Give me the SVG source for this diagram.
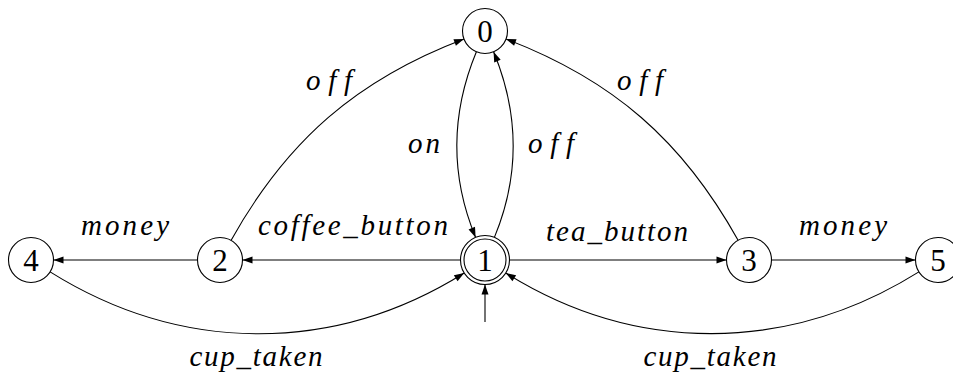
<svg xmlns="http://www.w3.org/2000/svg" width="953" height="374" viewBox="0 0 953 374" font-family="Liberation Serif, Times New Roman, serif">
<style>
.st{fill:#fff;stroke:#000;stroke-width:1.1}
.num{font-size:31px;text-anchor:middle;fill:#000}
.lbl{font-style:italic;font-size:29px;text-anchor:middle;fill:#000}
.e{fill:none;stroke:#000;stroke-width:1.1;marker-end:url(#ah)}
</style>
<defs>
<marker id="ah" markerUnits="userSpaceOnUse" markerWidth="11" markerHeight="8" refX="10" refY="3.5" orient="auto" overflow="visible">
<path d="M0,0 L10,3.5 L0,7 Z" fill="#000"/>
</marker>
</defs>
<rect width="953" height="374" fill="#fff"/>
<g id="connectors">
<path class="e" d="M460.5,260 L242.5,260"/>
<path class="e" d="M197.5,260 L53.5,260"/>
<path class="e" d="M509.5,260 L726.5,260"/>
<path class="e" d="M771.5,260 L915.5,260"/>
<path class="e" d="M231,240.4 C287,140.4 357,79.6 464,39"/>
<path class="e" d="M738.1,240.3 C682.5,140.4 612.8,79.8 506,39"/>
<path class="e" d="M476.4,51.8 C450.7,113.9 450.7,177.1 475.6,237.4"/>
<path class="e" d="M494.4,237.4 C519.3,177.1 519.3,113.9 493.6,51.8"/>
<path class="e" d="M50.1,271.9 C181.7,354.2 334.3,354.2 464.2,273"/>
<path class="e" d="M918.9,271.9 C787.6,354 635.4,354 505.8,273"/>
<path class="e" d="M485,322 L485,284.5"/>
</g>
<g id="labels" font-family="Liberation Serif, Times New Roman, serif">
<text class="lbl" x="329" y="90" textLength="46">off</text>
<text class="lbl" x="640" y="90" textLength="46">off</text>
<text class="lbl" x="424" y="153" textLength="32">on</text>
<text class="lbl" x="551" y="153" textLength="46">off</text>
<text class="lbl" x="125" y="235" textLength="88">money</text>
<text class="lbl" x="353" y="235" textLength="190">coffee_button</text>
<text class="lbl" x="617" y="241" textLength="142">tea_button</text>
<text class="lbl" x="843" y="235" textLength="88">money</text>
<text class="lbl" x="256" y="366" textLength="133">cup_taken</text>
<text class="lbl" x="710" y="366" textLength="133">cup_taken</text>
</g>
<g id="node0"><circle class="st" cx="485" cy="31" r="22.5"/><text class="num" x="485" y="41.5">0</text></g>
<g id="node1"><circle class="st" cx="485" cy="260" r="24.5"/><circle class="st" cx="485" cy="260" r="21"/><text class="num" x="485" y="270.5">1</text></g>
<g id="node2"><circle class="st" cx="220" cy="260" r="22.5"/><text class="num" x="220" y="270.5">2</text></g>
<g id="node3"><circle class="st" cx="749" cy="260" r="22.5"/><text class="num" x="749" y="270.5">3</text></g>
<g id="node4"><circle class="st" cx="31" cy="260" r="22.5"/><text class="num" x="31" y="270.5">4</text></g>
<g id="node5"><circle class="st" cx="938" cy="260" r="22.5"/><text class="num" x="938" y="270.5">5</text></g>
</svg>
